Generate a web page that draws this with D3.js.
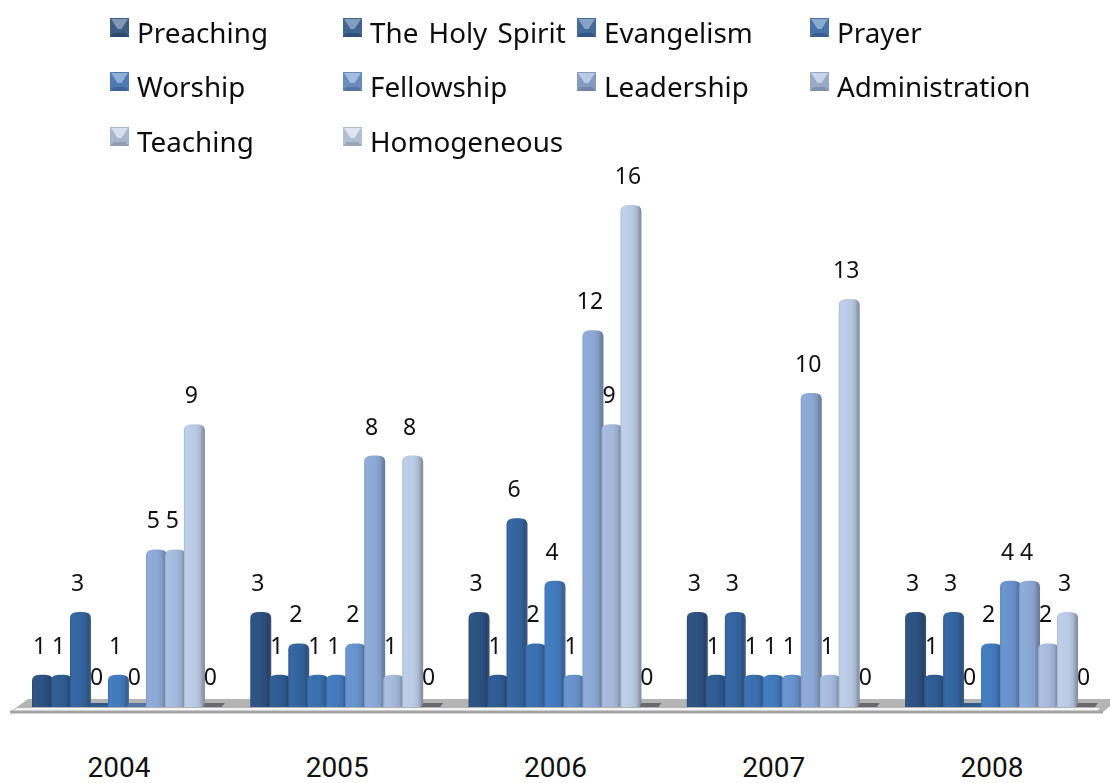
<!DOCTYPE html>
<html><head><meta charset="utf-8">
<script src="https://cdn.jsdelivr.net/npm/d3@7/dist/d3.min.js"></script>
<style>html,body{margin:0;padding:0;background:#fff;overflow:hidden}svg{display:block}text{font-family:"Noto Sans","Open Sans",sans-serif;fill:#111}</style>
</head><body><svg id="c" width="1110" height="783"></svg>
<script>
const years=["2004","2005","2006","2007","2008"];
const seriesNames=["Preaching","The Holy Spirit","Evangelism","Prayer","Worship","Fellowship","Leadership","Administration","Teaching","Homogeneous"];
const colors=["#2d5180","#2f5b91","#33649f","#3a6fae","#427abd","#6791ca","#8ba7d3","#a4b8da","#b9c9e3","#c8d4e8"];
const preaching=[1,3,3,3,3];
const holySpirit=[1,1,1,1,1];
const evangelism=[3,2,6,3,3];
const prayer=[0,1,2,1,0];
const worship=[1,1,4,1,2];
const fellowship=[0,2,1,1,4];
const leadership=[5,8,12,10,4];
const administration=[5,1,9,1,2];
const teaching=[9,8,16,13,3];
const homogeneous=[0,0,0,0,0];
const seriesValues=[preaching,holySpirit,evangelism,prayer,worship,fellowship,leadership,administration,teaching,homogeneous];

const svg=d3.select("#c");
const x0=d3.scaleBand().domain(years).range([32,1095]).paddingInner(0.13).paddingOuter(0);
const x1=d3.scaleBand().domain(seriesNames).range([0,x0.bandwidth()]);
const y=d3.scaleLinear().domain([0,16]).range([706,205]);
const defs=svg.append("defs");
defs.append("filter").attr("id","soft").append("feGaussianBlur").attr("stdDeviation",0.55);
seriesNames.forEach((s,i)=>{
  const c=d3.color(colors[i]);
  const g=defs.append("linearGradient").attr("id","g"+i);
  [[0,c.darker(0.2)],[0.1,c.brighter(0.1)],[0.55,c],[0.76,c.darker(0.2)],[0.86,c.darker(0.6)],[1,d3.interpolateRgb(c,"#556")(0.55)]]
    .forEach(([o,k])=>g.append("stop").attr("offset",o).attr("stop-color",k));
});

// floor
const fy=708;
const floor=svg.append("g").attr("filter","url(#soft)");
floor.append("path").attr("d",`M10,${fy+4}L28,${fy-9}H1118L1103,${fy+4}Z`).attr("fill","#b4b4b4");
floor.append("path").attr("d",`M17,${fy}H1100L1097,${fy+3}H13Z`).attr("fill","#f6f6f6");
floor.append("path").attr("d",`M10,${fy+4}H1103`).attr("stroke","#a4a4a4").attr("stroke-width",3);

// bars
const layer=svg.append("g").attr("filter","url(#soft)");
const groups=layer.selectAll("g.yr").data(years).join("g").attr("class","yr")
  .attr("transform",d=>`translate(${x0(d)},0)`);
seriesNames.forEach((s,i)=>{
  const w=x1.bandwidth();
  groups.append("path").attr("d",(yr,j)=>{
    const v=seriesValues[i][j], l=x1(s), top=y(v);
    if(v===0) return `M${l+2},${fy-5}H${l+w+3}L${l+w},${fy-1}H${l}Z`;
    const p=d3.path();
    p.moveTo(l,fy-1);
    p.lineTo(l,top+6);
    p.quadraticCurveTo(l,top,l+8,top);
    p.lineTo(l+w-6,top);
    p.quadraticCurveTo(l+w+2,top,l+w+2,top+6);
    p.lineTo(l+w+2,fy-1);
    p.closePath();
    return p.toString();
  }).attr("fill",(yr,j)=>seriesValues[i][j]===0?(i>7?"#6a6a6e":d3.color(colors[i]).darker(0.6)):`url(#g${i})`);
});
// labels
const labels=svg.append("g").selectAll("g").data(years).join("g").attr("transform",d=>`translate(${x0(d)},0)`);
seriesNames.forEach((s,i)=>{
  labels.append("text").attr("x",x1(s)+x1.bandwidth()/2-2)
    .attr("y",(yr,j)=>y(seriesValues[i][j])-21)
    .attr("text-anchor","middle").attr("font-size",23).text((yr,j)=>seriesValues[i][j]);
});
// year axis labels
svg.selectAll("text.yl").data(years).join("text").attr("class","yl")
  .attr("x",d=>x0(d)+x0.bandwidth()/2-8).attr("y",777)
  .attr("text-anchor","middle").attr("font-size",28).style("font-family","Roboto").text(d=>d);

// legend
const legX=d3.scaleOrdinal().domain([0,1,2,3]).range([110,343,577,810]);
const legY=d3.scaleOrdinal().domain([0,1,2]).range([28,82,137]);
const leg=svg.selectAll("g.lg").data(seriesNames).join("g").attr("class","lg")
  .attr("filter","url(#soft)")
  .attr("transform",(d,i)=>`translate(${legX(i%4)},${legY(Math.floor(i/4))})`);
const sz=19, t=-10, b=sz-10;
const mid=(d,i)=>d3.interpolateRgb(colors[i],"#707a90")(0.25);
leg.append("rect").attr("x",0).attr("y",t).attr("width",sz).attr("height",sz).attr("fill",mid);
leg.append("path").attr("d",`M1,${t+1}H${sz-1}L${sz/2+2},${t+11}H${sz/2-2}Z`).attr("fill",(d,i)=>d3.interpolateRgb(colors[i],"#fff")(0.4));
leg.append("path").attr("d",`M0,${b}H${sz}L${sz-4},${b-4}H4Z`).attr("fill",(d,i)=>d3.interpolateRgb(colors[i],"#334")(0.3));
leg.append("text").attr("filter",null).attr("x",27).attr("y",15).attr("font-size",27.8).style("word-spacing","3px").text(d=>d);
</script></body></html>
